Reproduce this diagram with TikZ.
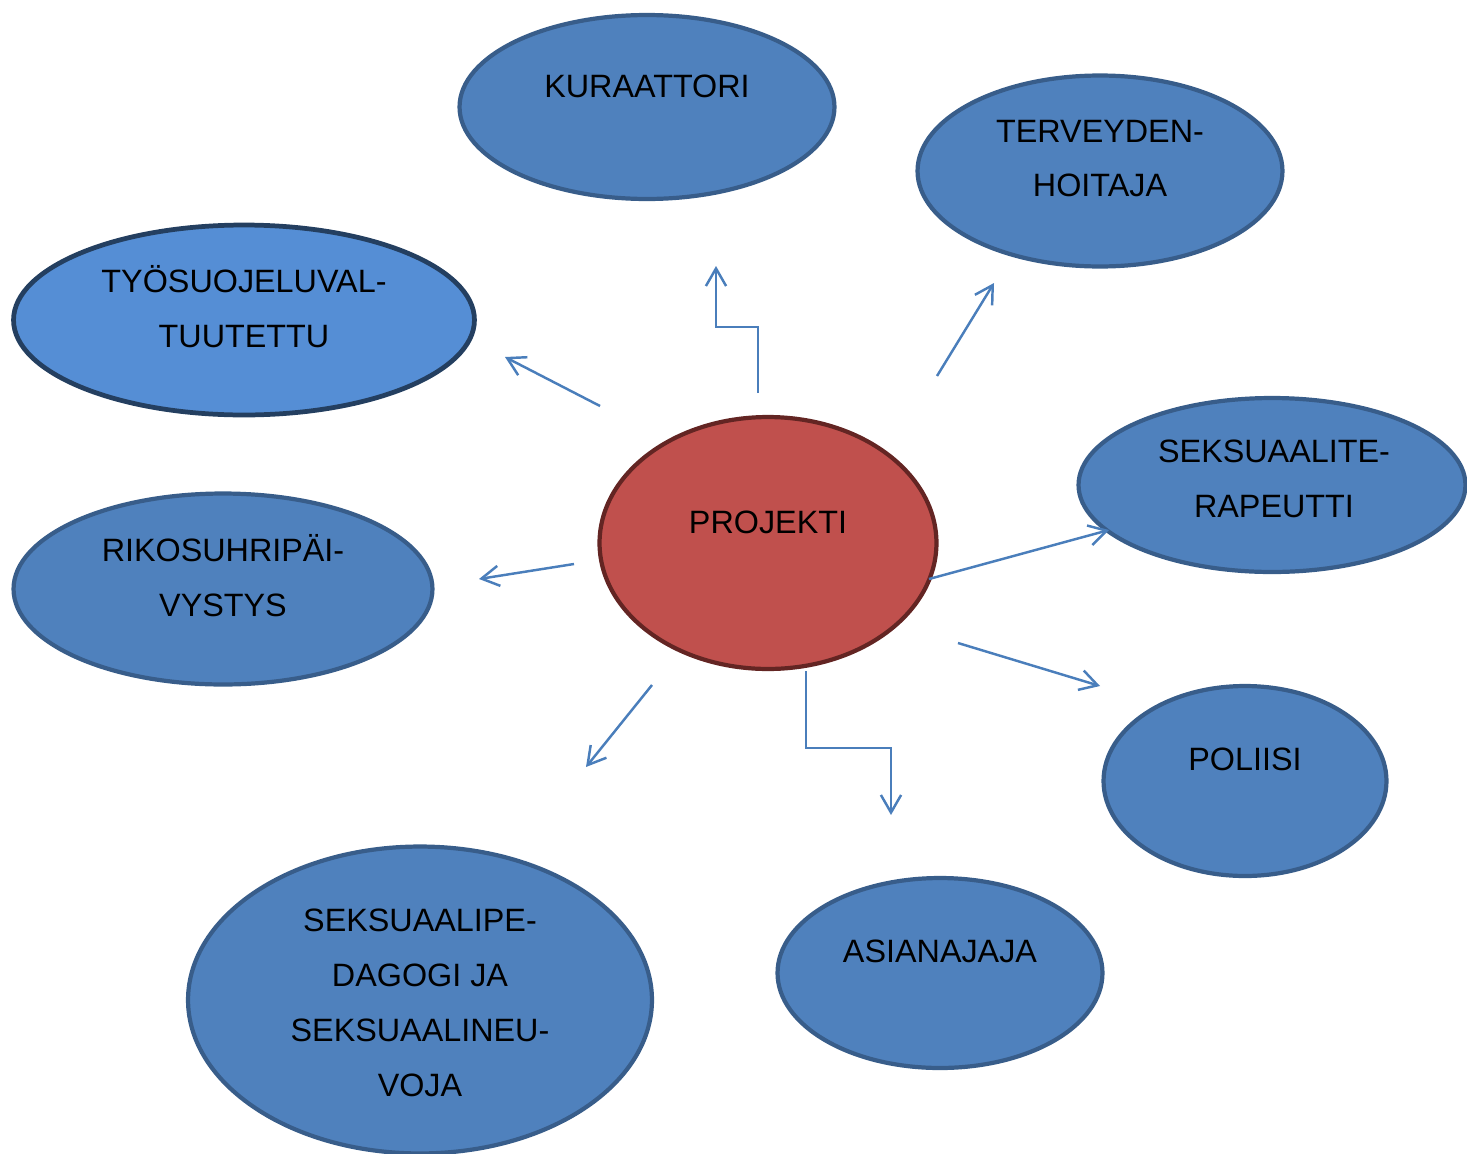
\documentclass[tikz,border=0pt]{standalone}
\usepackage{fontspec}
\setmainfont{Liberation Sans}
\usetikzlibrary{arrows.meta,shapes.geometric}
\definecolor{bubblefill}{HTML}{4F81BD}
\definecolor{bubbleline}{HTML}{385D8A}
\definecolor{lightfill}{HTML}{558ED5}
\definecolor{lightline}{HTML}{243F60}
\definecolor{hubfill}{HTML}{C0504D}
\definecolor{hubline}{HTML}{632523}
\definecolor{linkblue}{HTML}{4A7EBB}
\tikzstyle{bubble} = [draw=bubbleline, fill=bubblefill, line width=2.4pt, ellipse, inner sep=0pt]
\tikzstyle{lightbubble} = [bubble, draw=lightline, fill=lightfill, line width=2.7pt]
\tikzstyle{hub} = [bubble, draw=hubline, fill=hubfill]
\tikzstyle{caption} = [align=center, inner sep=0pt, font=\fontsize{18.4}{31.2}\selectfont]
\tikzstyle{link} = [draw=linkblue, line width=1.4pt, -{Straight Barb[length=10pt,width=11.5pt,line width=1.4pt]}]

\begin{document}
\begin{tikzpicture}[x=0.02cm, y=-0.02cm]
\useasboundingbox (0,0) rectangle (1467,1153);
% ellipses
\node [bubble, minimum width=7.50cm, minimum height=3.68cm] (kur) at (647,107) {};
\node [bubble, minimum width=7.30cm, minimum height=3.82cm] (ter) at (1100,171) {};
\node [lightbubble, minimum width=9.22cm, minimum height=3.80cm] (tyo) at (244,320) {};
\node [bubble, minimum width=7.74cm, minimum height=3.48cm] (sek) at (1272,485) {};
\node [hub, minimum width=6.74cm, minimum height=5.04cm] (pro) at (768,543) {};
\node [bubble, minimum width=8.38cm, minimum height=3.82cm] (rik) at (223,589) {};
\node [bubble, minimum width=5.66cm, minimum height=3.80cm] (pol) at (1245,781) {};
\node [bubble, minimum width=6.50cm, minimum height=3.80cm] (asi) at (940,973) {};
\node [bubble, minimum width=9.28cm, minimum height=6.14cm] (ped) at (420,1000) {};
% texts
\node [caption] (kurtext) at (647,86) {KURAATTORI};
\node [caption] (tertext) at (1100,158.5) {TERVEYDEN-\\HOITAJA};
\node [caption] (tyotext) at (244,307) {TYÖSUOJELUVAL-\\TUUTETTU};
\node [caption] (sektext) at (1274,478.5) {SEKSUAALITE-\\RAPEUTTI};
\node [caption] (protext) at (768,522) {PROJEKTI};
\node [caption] (riktext) at (223,576) {RIKOSUHRIPÄI-\\VYSTYS};
\node [caption] (poltext) at (1245,759) {POLIISI};
\node [caption] (asitext) at (940,951) {ASIANAJAJA};
\node [caption] (pedtext) at (420,1003) {SEKSUAALIPE-\\DAGOGI JA\\SEKSUAALINEU-\\VOJA};
% arrow ends
\coordinate (kurfrom) at (758,393);
\coordinate (kurto) at (716,266);
\coordinate (terfrom) at (937,376);
\coordinate (terto) at (994,283);
\coordinate (tyofrom) at (600,406);
\coordinate (tyoto) at (505,357);
\coordinate (sekfrom) at (929,579);
\coordinate (sekto) at (1109,530);
\coordinate (rikfrom) at (574,564);
\coordinate (rikto) at (479,579);
\coordinate (polfrom) at (958,643);
\coordinate (polto) at (1100,686);
\coordinate (asifrom) at (806,671);
\coordinate (asito) at (891,815);
\coordinate (pedfrom) at (652,685);
\coordinate (pedto) at (586,767);
% arrows
\draw [link] (kurfrom) -- ++(0,-66) -| (kurto);
\draw [link] (terfrom) -- (terto);
\draw [link] (tyofrom) -- (tyoto);
\draw [link] (sekfrom) -- (sekto);
\draw [link] (rikfrom) -- (rikto);
\draw [link] (polfrom) -- (polto);
\draw [link] (asifrom) -- ++(0,77) -| (asito);
\draw [link] (pedfrom) -- (pedto);
\end{tikzpicture}
\end{document}
